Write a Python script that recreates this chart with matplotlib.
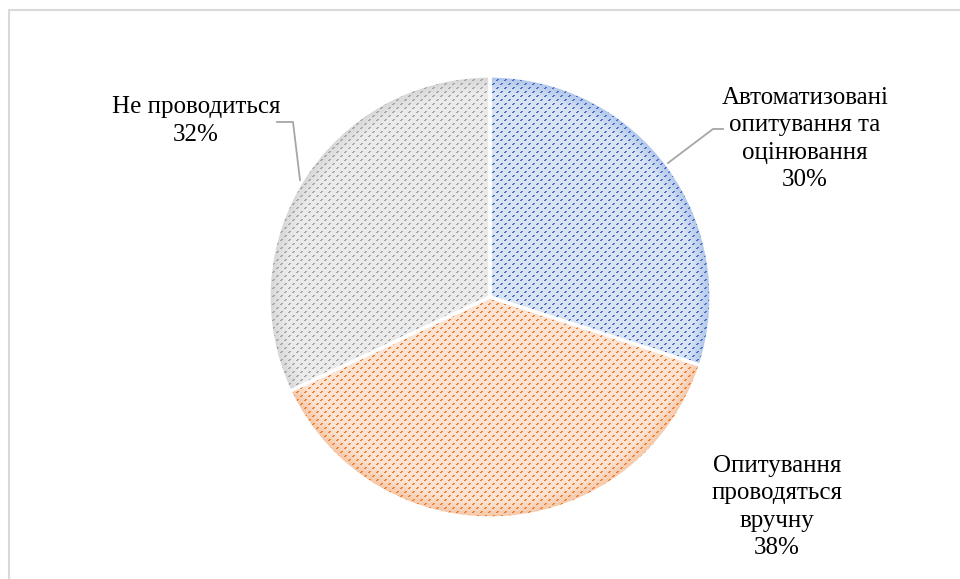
import numpy as np
import matplotlib.pyplot as plt

labels = ["Автоматизовані\nопитування та\nоцінювання", "Опитування\nпроводяться\nвручну", "Не проводиться"]
shares = [30, 38, 32]

# foreground dash colour, light fill, rim tint
fg_colors = ["#4472C4", "#ED7D31", "#A5A5A5"]
bg_colors = ["#D9E3F4", "#FBE2D1", "#EBEBEB"]
rim_colors = ["#AFC3EA", "#F6C4A2", "#D6D6D6"]

W, H = 960, 579
cx, cy, R = 490, 297, 221


def hex2rgb(h):
    return np.array([int(h[i:i + 2], 16) / 255 for i in (1, 3, 5)])


def pattern(fg, bg, rim):
    yy, xx = np.mgrid[0:H, 0:W]
    r = np.hypot(xx - cx, yy - cy)
    t = np.clip((r - (R - 16)) / 16, 0, 1)[..., None]
    img = hex2rgb(bg) * (1 - t) + hex2rgb(rim) * t
    # small stepped dashes climbing to the right
    dash = np.zeros((H, W), bool)
    for dx, dy in [(0, 0), (1, 0), (1, -1), (2, -1)]:
        X, Y = xx - dx, yy - dy
        dash |= (Y % 4 == 0) & ((X - 4 * ((Y // 4) % 2)) % 8 == 0)
    img[dash] = hex2rgb(fg)
    return img


fig = plt.figure(figsize=(W / 100, H / 100), dpi=100)
ax = fig.add_axes([0, 0, 1, 1])

wedges, _ = ax.pie(shares, startangle=90, counterclock=False, radius=R,
                   center=(cx, H - cy), frame=False)
ax.set_xlim(0, W)
ax.set_ylim(0, H)
ax.axis("off")

for w, fg, bg, rim in zip(wedges, fg_colors, bg_colors, rim_colors):
    im = ax.imshow(pattern(fg, bg, rim), extent=(0, W, 0, H), origin="upper",
                   interpolation="nearest", zorder=1)
    im.set_clip_path(w)
    w.set_facecolor("none")
    w.set_edgecolor("white")
    w.set_linewidth(2.4)
    w.set_zorder(3)

ax.set_xlim(0, W)
ax.set_ylim(0, H)

font = dict(family="Liberation Serif", fontsize=18, ha="center", va="center",
            linespacing=1.33, color="black")
ax.text(805, H - 139, f"{labels[0]}\n{shares[0]}%", **font)
ax.text(777, H - 507, f"{labels[1]}\n{shares[1]}%", **font)
ax.text(196, H - 121, f"{labels[2]}\n{shares[2]}%", **font)

# leader lines
ax.plot([723, 713, 668], [H - 129, H - 129, H - 163], color="#A6A6A6", lw=1.3, zorder=4)
ax.plot([277, 293, 300], [H - 122, H - 122, H - 180], color="#A6A6A6", lw=1.3, zorder=4)

# chart area border
ax.plot([8.5, 8.5, W], [0, H - 9.5, H - 9.5], color="#D9D9D9", lw=1.5, zorder=5)

fig.savefig("out.png", dpi=100)
